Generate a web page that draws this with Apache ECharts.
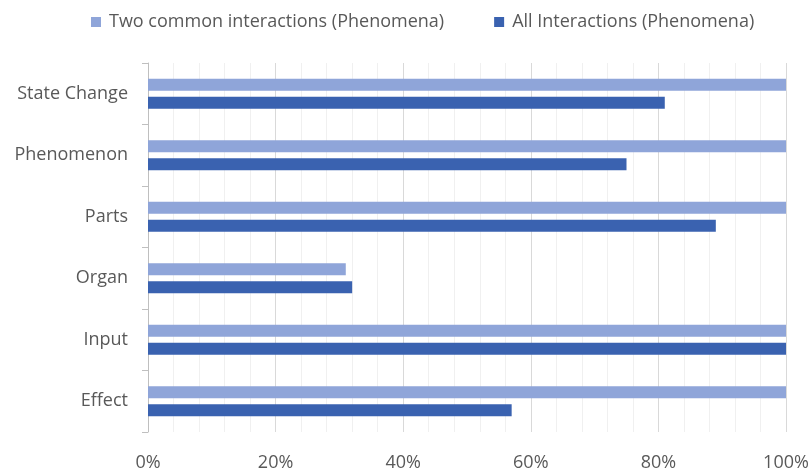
<!DOCTYPE html>
<html>
<head>
<meta charset="utf-8">
<script src="https://cdn.jsdelivr.net/npm/echarts@6/dist/echarts.min.js"></script>
<style>
  html, body { margin: 0; padding: 0; background: #fff; }
  #chart { width: 811px; height: 470px; }
</style>
</head>
<body>
<div id="chart"></div>
<script>
var categories = ['State Change', 'Phenomenon', 'Parts', 'Organ', 'Input', 'Effect'];
var twoCommon = [100, 100, 100, 31, 100, 100];
var allInteractions = [81, 75, 89, 32, 100, 57];
var seriesNames = ['Two common interactions (Phenomena)', 'All Interactions (Phenomena)'];

var myChart = echarts.init(document.getElementById('chart'));
var font = 'Open Sans, sans-serif';

var option = {
  animation: false,
  legend: {
    top: 8,
    left: 86,
    itemWidth: 10,
    itemHeight: 10,
    itemGap: 50,
    icon: 'rect',
    textStyle: { color: '#595959', fontSize: 18, fontFamily: font, padding: [0, 0, 0, 3] },
    data: seriesNames
  },
  grid: { left: 148, right: 25, top: 63, bottom: 38, outerBoundsMode: 'none' },
  xAxis: {
    type: 'value',
    min: 0,
    max: 100,
    interval: 20,
    axisLine: { show: false },
    axisTick: { show: false },
    axisLabel: {
      formatter: '{value}%',
      color: '#595959',
      fontSize: 18,
      fontFamily: font,
      margin: 22
    },
    splitLine: { lineStyle: { color: '#d9d9d9', width: 1 } },
    minorTick: { show: false, splitNumber: 5 },
    minorSplitLine: { show: true, lineStyle: { color: '#f0f0f0', width: 1 } }
  },
  yAxis: {
    type: 'category',
    inverse: true,
    data: categories,
    axisLine: { show: true, lineStyle: { color: '#bfbfbf' } },
    axisTick: { show: true, length: 6, lineStyle: { color: '#bfbfbf' } },
    axisLabel: {
      color: '#595959',
      fontSize: 18,
      fontFamily: font,
      margin: 20,
      padding: [4, 0, 0, 0]
    }
  },
  series: [
    {
      name: seriesNames[0],
      type: 'bar',
      data: twoCommon,
      barWidth: 12,
      barGap: '50%',
      itemStyle: { color: '#8FA5D9' }
    },
    {
      name: seriesNames[1],
      type: 'bar',
      data: allInteractions,
      barWidth: 12,
      barGap: '50%',
      itemStyle: { color: '#3A62B0' }
    }
  ]
};
option && myChart.setOption(option);
</script>
</body>
</html>
